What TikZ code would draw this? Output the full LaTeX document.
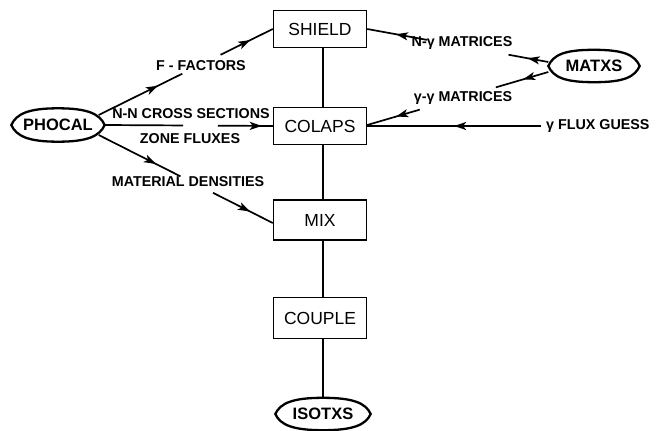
\documentclass[tikz,border=0pt]{standalone}
\usepackage{fontspec}
\setmainfont{Liberation Sans}
\usetikzlibrary{calc,arrows.meta,decorations.markings}
\tikzset{
  box/.style={draw, line width=1.5pt, minimum width=93pt, inner sep=0pt,
    font=\fontsize{17.5}{18}\selectfont},
  lensnode/.style={inner sep=0pt, font=\bfseries\fontsize{16.5}{17}\selectfont},
  lensline/.style={line width=2.3pt},
  conn/.style={line width=1.7pt},
  lbl/.style={inner sep=0pt, font=\bfseries\fontsize{14.3}{15}\selectfont},
  arrowat/.style={postaction={decorate, decoration={markings,
    mark=at position #1 with {\arrow{Stealth[length=12pt,width=8pt,inset=3pt]}}}}}
}
\newcommand\lensdraw[1]{%
  \draw[lensline] (#1.west) .. controls +(5,-11) and +(-30,0) .. (#1.north)
    .. controls +(30,0) and +(-5,-11) .. (#1.east)
    .. controls +(-5,11) and +(30,0) .. (#1.south)
    .. controls +(-30,0) and +(5,11) .. (#1.west) -- cycle;}
\begin{document}
\begin{tikzpicture}[x=1pt,y=-1pt]
\useasboundingbox (0,0) rectangle (672,431);
% boxes
\node[box, minimum height=37pt] (shield) at (320,29) {SHIELD};
\node[box, minimum height=37pt] (colaps) at (320,126) {COLAPS};
\node[box, minimum height=40pt] (mix) at (320,220) {MIX};
\node[box, minimum height=41pt] (couple) at (320,318) {COUPLE};
% lens nodes
\node[lensnode, minimum width=93pt, minimum height=33pt] (phocal) at (58,125) {PHOCAL};
\node[lensnode, minimum width=91pt, minimum height=32pt] (matxs) at (594,66) {MATXS};
\node[lensnode, minimum width=95pt, minimum height=32pt] (isotxs) at (323,414) {ISOTXS};
\lensdraw{phocal}
\lensdraw{matxs}
\lensdraw{isotxs}
% vertical chain
\draw[conn] ([xshift=3pt]shield.south) -- ([xshift=3pt]colaps.north);
\draw[conn] ([xshift=3pt]colaps.south) -- ([xshift=3pt]mix.north);
\draw[conn] ([xshift=3pt]mix.south) -- ([xshift=3pt]couple.north);
\draw[conn] ([xshift=3pt]couple.south) -- (isotxs.north);
% coordinates
\coordinate (a1) at ($(phocal.east)+(-6,-10)$);
\coordinate (a3) at ($(phocal.east)+(-6,10)$);
\coordinate (b3) at ($(mix.west)+(0,3)$);
\coordinate (m4) at ($(matxs.west)+(0,-4)$);
\coordinate (m5) at ($(matxs.west)+(0,6)$);
\coordinate (b5) at ($(colaps.east)+(0,-1)$);
\coordinate (fg) at (541,126);
% PHOCAL -> SHIELD
\draw[conn, arrowat=0.71] (a1) -- ($(a1)!0.48!(shield.west)$);
\draw[conn, arrowat=0.57] ($(a1)!0.70!(shield.west)$) -- (shield.west);
\node[lbl] (ff) at (201,66) {F - FACTORS};
% PHOCAL -> COLAPS
\draw[conn] (phocal.east) -- ($(phocal.east)!0.466!(colaps.west)$);
\draw[conn, arrowat=0.80] ($(phocal.east)!0.674!(colaps.west)$) -- (colaps.west);
\node[lbl] (nn) at (191,114) {N-N CROSS SECTIONS};
\node[lbl] (zf) at (190,139) {ZONE FLUXES};
% PHOCAL -> MIX
\draw[conn, arrowat=0.70] (a3) -- ($(a3)!0.47!(b3)$);
\draw[conn, arrowat=0.62] ($(a3)!0.657!(b3)$) -- (b3);
\node[lbl] (md) at (188,182) {MATERIAL DENSITIES};
% MATXS -> SHIELD
\draw[conn, arrowat=0.52] (m4) -- ($(m4)!0.22!(shield.east)$);
\draw[conn, arrowat=0.52] ($(m4)!0.67!(shield.east)$) -- (shield.east);
\node[lbl] (ng) at (462,43) {N-γ MATRICES};
% MATXS -> COLAPS
\draw[conn, arrowat=0.48] (m5) -- ($(m5)!0.29!(b5)$);
\draw[conn, arrowat=0.45] ($(m5)!0.71!(b5)$) -- (b5);
\node[lbl] (gg) at (463,98) {γ-γ MATRICES};
% flux guess
\draw[conn, arrowat=0.50] (fg) -- (colaps.east);
\node[lbl, anchor=west] (fx) at (546,126) {γ FLUX GUESS};
\end{tikzpicture}
\end{document}
